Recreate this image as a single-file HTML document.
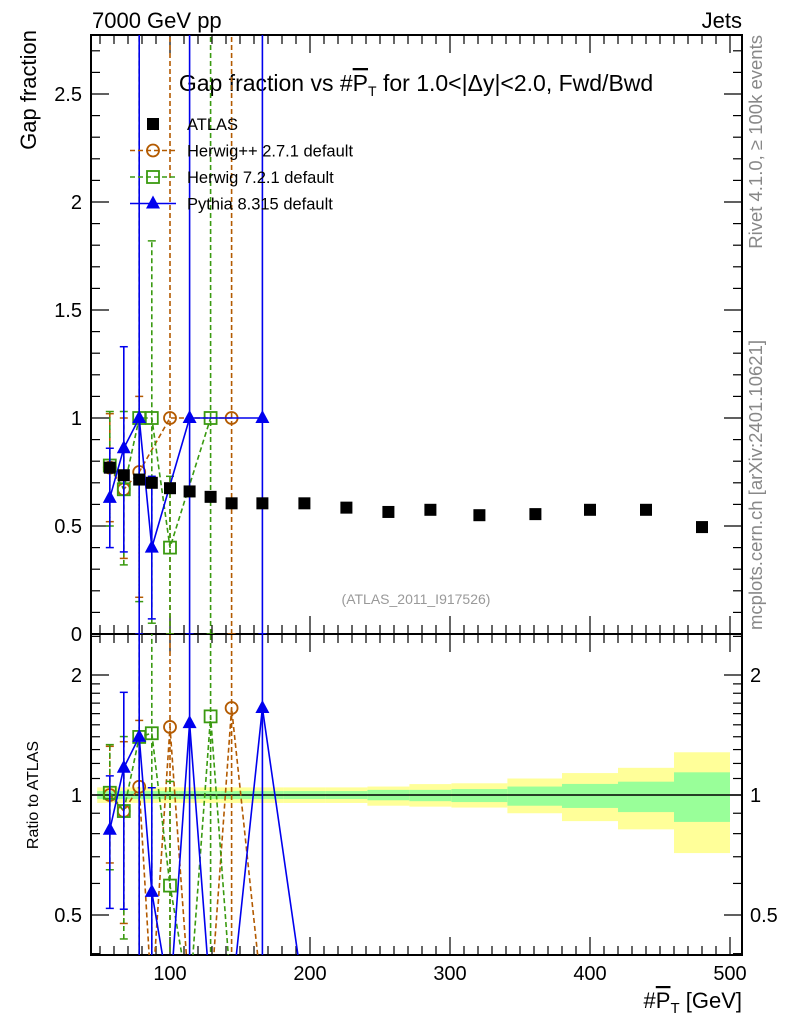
<!DOCTYPE html>
<html><head><meta charset="utf-8"><style>
body{margin:0;background:#fff;overflow:hidden;}
svg{display:block;font-family:"Liberation Sans",sans-serif;}
</style></head><body>
<svg id="c" width="786" height="1024" viewBox="0 0 786 1024" xmlns="http://www.w3.org/2000/svg">
<defs>
<clipPath id="cm"><rect x="91" y="35" width="651" height="599"/></clipPath>
<clipPath id="cr"><rect x="91" y="634" width="651" height="321"/></clipPath>
</defs>
<text x="92" y="28" font-size="22">7000 GeV pp</text>
<text x="742" y="28" font-size="22" text-anchor="end">Jets</text>
<text x="416" y="91" font-size="23" text-anchor="middle">Gap fraction vs #<tspan text-decoration="overline">P</tspan><tspan font-size="14" dy="5">T</tspan><tspan dy="-5"> for 1.0&lt;|Δy|&lt;2.0, Fwd/Bwd</tspan></text>
<text transform="translate(36,30) rotate(-90)" font-size="22" text-anchor="end">Gap fraction</text>
<text transform="translate(38,795) rotate(-90)" font-size="16" text-anchor="middle">Ratio to ATLAS</text>
<text x="742" y="1008" font-size="22" text-anchor="end">#<tspan text-decoration="overline">P</tspan><tspan font-size="15" dy="5">T</tspan><tspan dy="-5"> [GeV]</tspan></text>
<text transform="translate(762,35) rotate(-90)" font-size="18.5" fill="#888" text-anchor="end">Rivet 4.1.0, ≥ 100k events</text>
<text transform="translate(762,630) rotate(-90)" font-size="18.5" fill="#888">mcplots.cern.ch [arXiv:2401.10621]</text>
<text x="416" y="604" font-size="14" fill="#999" text-anchor="middle">(ATLAS_2011_I917526)</text>
<g id="g"></g>
</svg>
<script>
const xVals=[57,67,78,87,100,114,129,144,166,196,226,256,286,321,361,400,440,480];
const atlas=[0.77,0.735,0.715,0.70,0.675,0.66,0.635,0.605,0.605,0.605,0.585,0.565,0.575,0.55,0.555,0.575,0.575,0.495];
const herwigpp=[0.77,0.67,0.75,0,1.0,0,0,1.0,0];
const herwigppLo=[0.52,0.35,0.17,0,0,0,0,0,0];
const herwigppHi=[1.02,1.0,1.1,0,3,0,0,3,0];
const herwig7=[0.78,0.67,1.0,1.0,0.4,0,1.0,0];
const herwig7Lo=[0.5,0.32,0.15,0.05,0,0,0,0];
const herwig7Hi=[1.03,1.03,3,1.82,0.73,0,3,0];
const pythia=[0.63,0.86,1.0,0.4,0,1.0,0,0,1.0,0];
const pythiaLo=[0.40,0.38,0,0.07,0,0,0,0,0,0];
const pythiaHi=[0.86,1.33,3,0.73,0,3,0,0,3,0];
const bandEdges=[48,62,72,82,92,106,121,136,155,181,211,241,271,301,341,380,420,460,500];
const yelUp=[1.045,1.045,1.045,1.045,1.045,1.045,1.045,1.045,1.045,1.045,1.045,1.05,1.065,1.07,1.10,1.135,1.17,1.28];
const yelDn=[0.955,0.955,0.955,0.955,0.955,0.955,0.955,0.955,0.955,0.955,0.955,0.94,0.935,0.93,0.90,0.86,0.82,0.715];
const grnUp=[1.023,1.023,1.023,1.023,1.023,1.023,1.023,1.023,1.023,1.023,1.023,1.03,1.03,1.035,1.05,1.066,1.08,1.14];
const grnDn=[0.977,0.977,0.977,0.977,0.977,0.977,0.977,0.977,0.977,0.977,0.977,0.97,0.965,0.96,0.94,0.928,0.906,0.856];
const mainTicks=[0,0.5,1,1.5,2,2.5];
const xTicks=[100,200,300,400,500];
const ratioTicks=[0.5,1,2];

const NS="http://www.w3.org/2000/svg";
const G=document.getElementById('g');
const X=v=>30+1.4*v;
const Y=v=>634-216*v;
const R=v=>v<=0?1000:795-120*Math.log2(v);
function mk(t,a,p){const e=document.createElementNS(NS,t);for(const k in a)e.setAttribute(k,a[k]);(p||G).appendChild(e);return e;}

const f1=mk('rect',{x:91,y:35,width:651,height:599,fill:'none',stroke:'#000','stroke-width':2});


const f2=mk('rect',{x:91,y:634,width:651,height:321,fill:'none',stroke:'#000','stroke-width':2});



for(let i=0;i<=27;i++){const v=i/10,y=Y(v);const L=(i%5==0)?18:9;
mk('line',{x1:91,x2:91+L,y1:y,y2:y,stroke:'#000','stroke-width':1.2});
mk('line',{x1:742,x2:742-L,y1:y,y2:y,stroke:'#000','stroke-width':1.2});}
mainTicks.forEach(v=>{const t=mk('text',{x:82,y:Y(v)+7,'font-size':20,'text-anchor':'end'});t.textContent=String(v);

});
for(let v=50;v<=500;v+=10){const x=X(v);const L=(v%100==0)?18:9;
mk('line',{x1:x,x2:x,y1:634,y2:634-L,stroke:'#000','stroke-width':1.2});
mk('line',{x1:x,x2:x,y1:35,y2:35+L,stroke:'#000','stroke-width':1.2});
mk('line',{x1:x,x2:x,y1:955,y2:955-L,stroke:'#000','stroke-width':1.2});
mk('line',{x1:x,x2:x,y1:634,y2:634+L,stroke:'#000','stroke-width':1.2});}
xTicks.forEach(v=>{const t=mk('text',{x:X(v),y:980,'font-size':20,'text-anchor':'middle'});t.textContent=String(v);

});
const rt=[0.4,0.5,0.6,0.7,0.8,0.9,1,1.1,1.2,1.3,1.4,1.5,1.6,1.7,1.8,1.9,2,2.5];
rt.forEach(v=>{const y=R(v);const L=(v==0.5||v==1||v==2)?18:9;
mk('line',{x1:91,x2:91+L,y1:y,y2:y,stroke:'#000','stroke-width':1.2});
mk('line',{x1:742,x2:742-L,y1:y,y2:y,stroke:'#000','stroke-width':1.2});});
ratioTicks.forEach(v=>{const t=mk('text',{x:82,y:R(v)+7,'font-size':20,'text-anchor':'end'});t.textContent=String(v);


const t2=mk('text',{x:750,y:R(v)+7,'font-size':20});t2.textContent=String(v);

});

const gm=mk('g',{'clip-path':'url(#cm)'});
const gr=mk('g',{'clip-path':'url(#cr)'});

for(let i=0;i<bandEdges.length-1;i++){const x0=X(bandEdges[i]),x1=X(bandEdges[i+1]);
const b=mk('rect',{x:x0,y:R(yelUp[i]),width:x1-x0,height:R(yelDn[i])-R(yelUp[i]),fill:'#ffff99'},gr);


const c=mk('rect',{x:x0,y:R(grnUp[i]),width:x1-x0,height:R(grnDn[i])-R(grnUp[i]),fill:'#99ff99'},gr);

}
mk('line',{x1:91,x2:742,y1:R(1),y2:R(1),stroke:'#000','stroke-width':1.5},gr);

function marker(kind,x,y,col,p){let e;
if(kind=='sq')e=mk('rect',{x:x-6,y:y-6,width:12,height:12,fill:'#000'},p);
if(kind=='osq')e=mk('rect',{x:x-6,y:y-6,width:12,height:12,fill:'#fff','fill-opacity':0,stroke:col,'stroke-width':1.8},p);
if(kind=='circ')e=mk('circle',{cx:x,cy:y,r:6,fill:'none',stroke:col,'stroke-width':1.8},p);
if(kind=='tri')e=mk('polygon',{points:`${x},${y-8} ${x-7},${y+5} ${x+7},${y+5}`,fill:col},p);
return e;}

function series(name,vals,lo,hi,col,dash,kind){
 const pts=[];vals.forEach((v,i)=>{if(v>0)pts.push([X(xVals[i]),Y(v)]);});
 const l=mk('polyline',{points:pts.map(p=>p.join(',')).join(' '),fill:'none',stroke:col,'stroke-width':1.6,'stroke-dasharray':dash},gm);
 
 
 vals.forEach((v,i)=>{if(v<=0)return;const x=X(xVals[i]);
  const eb=mk('line',{x1:x,x2:x,y1:Y(lo[i]),y2:Y(hi[i]),stroke:col,'stroke-width':1.6,'stroke-dasharray':dash},gm);
  
  
  mk('line',{x1:x-4,x2:x+4,y1:Y(lo[i]),y2:Y(lo[i]),stroke:col,'stroke-width':1.5},gm);
  mk('line',{x1:x-4,x2:x+4,y1:Y(hi[i]),y2:Y(hi[i]),stroke:col,'stroke-width':1.5},gm);
  const m=marker(kind,x,Y(v),col,gm);
  
  });
 const rp=vals.map((v,i)=>[X(xVals[i]),R(v/atlas[i])]);
 const rl=mk('polyline',{points:rp.map(p=>p.join(',')).join(' '),fill:'none',stroke:col,'stroke-width':1.6,'stroke-dasharray':dash},gr);
 
 
 vals.forEach((v,i)=>{if(v<=0)return;const x=X(xVals[i]);
  const eb=mk('line',{x1:x,x2:x,y1:R(lo[i]/atlas[i]),y2:R(hi[i]/atlas[i]),stroke:col,'stroke-width':1.6,'stroke-dasharray':dash},gr);
  
  
  if(lo[i]>0)mk('line',{x1:x-4,x2:x+4,y1:R(lo[i]/atlas[i]),y2:R(lo[i]/atlas[i]),stroke:col,'stroke-width':1.5},gr);
  mk('line',{x1:x-4,x2:x+4,y1:R(hi[i]/atlas[i]),y2:R(hi[i]/atlas[i]),stroke:col,'stroke-width':1.5},gr);
  const m=marker(kind,x,R(v/atlas[i]),col,gr);
  
  });
}
series('herwigpp',herwigpp,herwigppLo,herwigppHi,'#b35a00','5,3','circ');
series('herwig7',herwig7,herwig7Lo,herwig7Hi,'#3a9a10','5,3','osq');
series('pythia',pythia,pythiaLo,pythiaHi,'#0000ee','','tri');
atlas.forEach((v,i)=>{const m=marker('sq',X(xVals[i]),Y(v),'#000',gm);

});

const leg=[['ATLAS','sq','#000',''],['Herwig++ 2.7.1 default','circ','#b35a00','5,3'],['Herwig 7.2.1 default','osq','#3a9a10','5,3'],['Pythia 8.315 default','tri','#0000ee','']];
leg.forEach((e,i)=>{const y=124+i*26.5;
 const g=mk('g',{});
 
 
 if(i>0){mk('line',{x1:130,x2:176,y1:y,y2:y,stroke:e[2],'stroke-width':1.5,'stroke-dasharray':e[3]},g);}
 marker(e[1],153,y,e[2],g);
 const t=mk('text',{x:187,y:y+6,'font-size':16.5},g);t.textContent=e[0];});
</script>
</body></html>
